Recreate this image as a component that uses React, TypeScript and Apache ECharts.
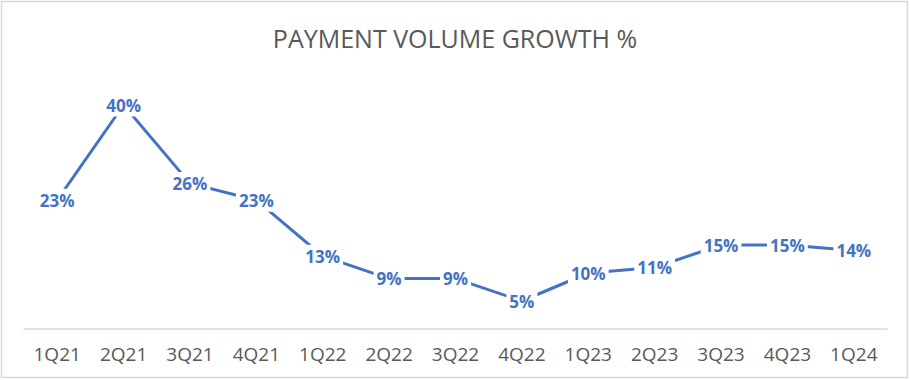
import React, { useEffect, useRef } from "react";
import * as echarts from "echarts";

const categories = ["1Q21", "2Q21", "3Q21", "4Q21", "1Q22", "2Q22", "3Q22", "4Q22", "1Q23", "2Q23", "3Q23", "4Q23", "1Q24"];
const growth = [23, 40, 26, 23, 13, 9, 9, 5, 10, 11, 15, 15, 14];
const titleText = "PAYMENT VOLUME GROWTH %";

export default function App() {
  const ref = useRef<HTMLDivElement>(null);
  useEffect(() => {
    document.body.style.margin = "0";
    const chart = echarts.init(ref.current!, null, { renderer: "svg" });
    chart.setOption({
      animation: false,
      backgroundColor: "#ffffff",
      title: {
        text: titleText,
        left: "center",
        top: 20,
        textStyle: { color: "#595959", fontSize: 25, fontWeight: "normal", fontFamily: "Open Sans" },
      },
      graphic: [
        {
          type: "rect",
          shape: { x: 1.5, y: 1.5, width: 906, height: 376 },
          style: { fill: "none", stroke: "#d9d9d9", lineWidth: 1.5 },
          silent: true,
        },
      ],
      grid: { left: 24, right: 23, top: 77, bottom: 51 },
      xAxis: {
        type: "category",
        data: categories,
        boundaryGap: true,
        axisLine: { show: true, lineStyle: { color: "#d9d9d9", width: 1.5 } },
        axisTick: { show: false },
        axisLabel: { color: "#595959", fontSize: 19, margin: 15, fontFamily: "Open Sans" },
      },
      yAxis: {
        type: "value",
        min: 0,
        max: 45,
        show: false,
        splitLine: { show: false },
      },
      series: [
        {
          type: "line",
          data: growth,
          showSymbol: true,
          symbol: "circle",
          symbolSize: 1,
          itemStyle: { color: "rgba(0,0,0,0)" },
          lineStyle: { color: "#4472C4", width: 3 },
          label: {
            show: true,
            position: "inside",
            align: "center",
            verticalAlign: "middle",
            formatter: (p: any) => p.value + "%",
            color: "#4472C4",
            fontWeight: "bold",
            fontSize: 17,
            fontFamily: "Open Sans",
            backgroundColor: "#ffffff",
            padding: [3, 3],
          },
        },
      ],
    });
    return () => chart.dispose();
  }, []);
  return <div ref={ref} style={{ width: 910, height: 380 }} />;
}
